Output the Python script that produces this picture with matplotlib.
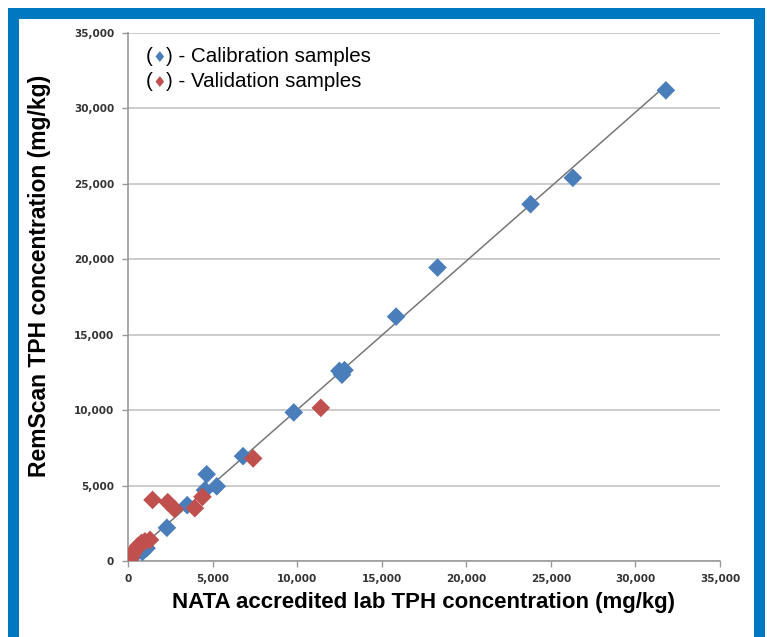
import matplotlib
matplotlib.use('Agg')
import matplotlib.pyplot as plt
import numpy as np
from matplotlib.patches import Rectangle
from matplotlib.offsetbox import TextArea, HPacker, VPacker, AnchoredOffsetbox
from matplotlib.ticker import FuncFormatter

# data (mg/kg)
cal_x = [31800, 26300, 23800, 18300, 15850, 12500, 12800, 12650, 9800, 6800,
         4650, 4550, 5250, 3500, 2300, 1100, 850, 300, 100]
cal_y = [31200, 25400, 23650, 19450, 16200, 12600, 12650, 12350, 9850, 6950,
         5750, 4700, 4950, 3700, 2200, 850, 600, 300, 200]

val_x = [11400, 7400, 4400, 1450, 2350, 2750, 3950, 1300, 1000, 800,
         600, 400, 300, 200, 100, 50]
val_y = [10150, 6800, 4250, 4050, 3900, 3450, 3500, 1400, 1300, 1200,
         1000, 700, 500, 300, 100, 0]

ticks = [0, 5000, 10000, 15000, 20000, 25000, 30000, 35000]

blue = '#4a7ebb'
red = '#c0504d'
frame = '#0078c1'

W, H = 767, 637
fig = plt.figure(figsize=(W/100, H/100), dpi=100)
fig.patch.set_facecolor('white')

# blue frame round the chart
for x0, y0, w, h in [(8, 0, 11, H-8), (8, H-19, 757, 11), (754, 0, 11, H-8)]:
    fig.patches.append(Rectangle((x0/W, y0/H), w/W, h/H, transform=fig.transFigure,
                                 facecolor=frame, edgecolor='none', zorder=0))

ax = fig.add_axes([128/W, 76/H, 592/W, 528/H])
ax.set_xlim(0, 35000)
ax.set_ylim(0, 35000)
ax.set_xticks(ticks)
ax.set_yticks(ticks)
fmt = FuncFormatter(lambda v, p: f'{int(v):,}')
ax.xaxis.set_major_formatter(fmt)
ax.yaxis.set_major_formatter(fmt)
ax.tick_params(axis='both', length=4, width=1, color='#999999', labelsize=7.5,
               labelcolor='#333333')
for lab in ax.get_xticklabels() + ax.get_yticklabels():
    lab.set_fontweight('bold')
ax.tick_params(axis='x', pad=5)
ax.tick_params(axis='y', pad=6)

ax.grid(axis='y', color='#cccccc', lw=1.4)
ax.set_axisbelow(True)
for s in ['top', 'right']:
    ax.spines[s].set_visible(False)
for s in ['left', 'bottom']:
    ax.spines[s].set_color('#999999')
    ax.spines[s].set_linewidth(1.2)

# trend line fitted to the calibration samples
k, b = np.polyfit(cal_x, cal_y, 1)
lx = np.array([0, max(cal_x)])
ax.plot(lx, k*lx + b, color='#777777', lw=1.1, zorder=3)

ax.scatter(cal_x, cal_y, marker='D', s=90, color=blue, edgecolors='none', zorder=4)
ax.scatter(val_x, val_y, marker='D', s=90, color=red, edgecolors='none', zorder=4)

lab_font = ['Liberation Sans', 'DejaVu Sans']
ax.set_xlabel('NATA accredited lab TPH concentration (mg/kg)', fontsize=16,
              fontweight='bold', family=lab_font, labelpad=6)
ax.set_ylabel('RemScan TPH concentration (mg/kg)', fontsize=16.5,
              fontweight='bold', family=lab_font)
ax.yaxis.set_label_coords(-0.13, 0.54)

# legend written as text, with coloured diamonds
def row(col, label):
    kw = dict(fontsize=14.8, color='black', family=['Liberation Sans', 'DejaVu Sans'])
    parts = [TextArea('(', textprops=kw),
             TextArea('\u2666', textprops=dict(fontsize=11, color=col, family='DejaVu Sans')),
             TextArea(') - ' + label, textprops=kw)]
    return HPacker(children=parts, align='baseline', pad=0, sep=0)

box = VPacker(children=[row(blue, 'Calibration samples'), row(red, 'Validation samples')],
              align='left', pad=0, sep=4)
anch = AnchoredOffsetbox(loc='upper left', child=box, frameon=False,
                         bbox_to_anchor=(146/W, 1 - 47/H), bbox_transform=fig.transFigure,
                         borderpad=0, pad=0)
ax.add_artist(anch)

fig.savefig('out.png', dpi=100)
